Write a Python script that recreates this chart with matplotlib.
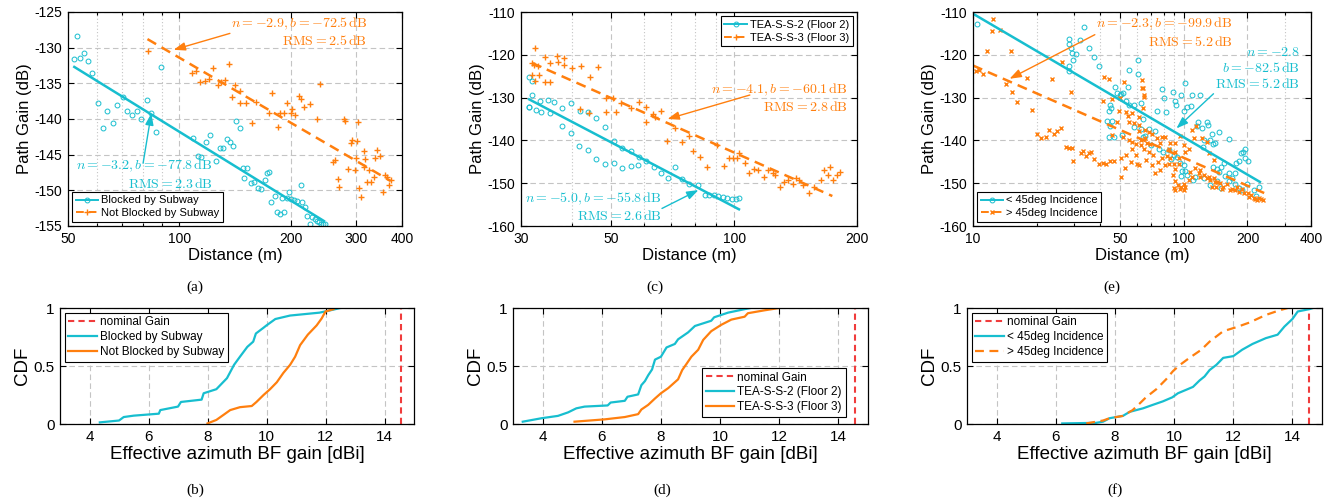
import matplotlib
matplotlib.use('Agg')
import matplotlib.pyplot as plt
from matplotlib.lines import Line2D
from matplotlib.ticker import FixedLocator, NullFormatter

plt.rcParams['font.family'] = ['Liberation Sans', 'DejaVu Sans']
plt.rcParams['mathtext.fontset'] = 'cm'
plt.rcParams['axes.unicode_minus'] = False

CYAN = '#17becf'
ORANGE = '#ff7f0e'
RED = '#f03c3c'
GRID = '#c4c4c4'

# ---------------- (a) blocked / not blocked by subway ----------------
a_blk_d = [51.8, 52.8, 54.0, 55.3, 56.6, 58.2, 60.3, 62.0, 63.9, 66.0,
           68.0, 70.4, 72.3, 74.4, 77.0, 79.0, 81.7, 84.0, 86.6, 89.0,
           108.9, 112.3, 114.1, 117.9, 120.9, 126.0, 128.6, 131.5, 134.3, 137.2,
           140.0, 142.7, 146.0, 148.5, 150, 152.6, 156, 159, 163, 166,
           170, 173, 175, 177, 181, 184, 187, 190, 192, 195,
           198, 200, 204, 208, 213, 215, 219, 222, 226, 229,
           232, 236, 239, 242, 245, 248]
a_blk_pg = [-131.6, -128.4, -131.5, -130.7, -131.8, -133.5, -137.7, -141.3, -138.9, -140.6,
            -138.1, -136.9, -138.9, -139.5, -138.9, -140.0, -137.3, -139.1, -141.8, -132.7,
            -142.6, -145.2, -145.3, -143.2, -142.3, -145.9, -144.0, -144.0, -142.8, -143.2,
            -143.8, -140.3, -141.2, -146.9, -148.3, -146.8, -149.0, -148.8, -149.7, -149.8,
            -148.6, -147.6, -147.4, -151.7, -150.8, -153.0, -153.3, -151.1, -153.1, -151.1,
            -150.3, -151.2, -151.3, -151.5, -149.3, -151.6, -152.4, -153.6, -154.7, -153.7,
            -154.0, -154.3, -154.5, -154.7, -154.7, -154.7]
a_nb_d = [82.3, 108, 111, 114, 117, 120, 123, 127, 130, 133,
          136, 139, 141, 146, 146, 151, 157, 161, 175, 178,
          185, 187, 192, 196, 200, 202, 206, 211, 213, 217,
          225, 236, 240, 261, 264, 268, 271, 278, 280, 285,
          291, 293, 298, 300, 303, 305, 307, 310, 315, 316,
          318, 322, 325, 330, 335, 338, 342, 348, 356, 360,
          364, 369, 373]
a_nb_pg = [-130.5, -133.5, -133.3, -134.8, -134.7, -134.4, -132.9, -135.3, -134.8, -134.5,
           -132.3, -136.9, -135.3, -137.8, -136.1, -137.8, -140.6, -137.6, -139.2, -136.3,
           -141.1, -139.2, -139.2, -137.8, -139.2, -138.6, -139.4, -136.8, -137.2, -138.3,
           -137.9, -140.0, -135.1, -146.0, -145.7, -148.4, -149.6, -140.0, -140.3, -147.0,
           -143.4, -143.0, -147.1, -145.5, -143.1, -140.4, -149.7, -150.9, -144.5, -146.7,
           -145.6, -148.8, -147.2, -148.8, -148.1, -145.5, -144.3, -145.2, -150.2, -147.9,
           -148.1, -149.3, -148.6]
a_fit_blk_d, a_fit_blk_pg = [52, 246], [-132.7, -154.3]
a_fit_nb_d, a_fit_nb_pg = [82, 373], [-128.8, -148.7]

# ---------------- (c) floor 2 / floor 3 ----------------
c_f2_d = [31.4, 31.9, 31.4, 31.4, 31.9, 32.6, 33.4, 33.6, 34.9, 35.3,
          36.2, 37.9, 37.9, 39.8, 39.8, 41.7, 41.8, 43.8, 43.8, 45.9,
          45.9, 48.3, 48.3, 50.6, 50.8, 53.1, 53.1, 55.7, 55.7, 58.2,
          58.4, 60.9, 63.4, 66.1, 68.9, 71.7, 74.3, 77.3, 81.4, 85.0,
          86.6, 89.1, 91.3, 93.8, 96.1, 98.5, 100.8, 102.7]
c_f2_pg = [-125.1, -126.1, -132.3, -132.2, -129.5, -132.9, -130.9, -133.4, -130.5, -133.7,
           -131.1, -136.6, -132.5, -138.2, -131.3, -141.3, -133.1, -142.3, -133.4, -134.8,
           -144.3, -136.8, -145.5, -140.2, -145.2, -146.4, -141.7, -142.5, -146.0, -145.8,
           -143.8, -144.8, -146.2, -147.7, -148.8, -146.3, -149.1, -150.3, -150.5, -152.8,
           -152.7, -152.8, -153.0, -153.2, -153.4, -153.7, -153.8, -153.4]
c_f3_d = [32.4, 31.9, 32.3, 33.0, 31.9, 32.4, 33.3, 34.3, 34.3, 35.3,
          35.3, 36.8, 36.9, 38.2, 38.3, 40.0, 42.0, 44.2, 46.4, 41.8,
          44.0, 48.6, 51.2, 48.6, 50.4, 52.9, 55.8, 58.4, 60.8, 60.8,
          63.1, 63.8, 66.0, 68.6, 71.6, 74.5, 77.3, 79.3, 82.6, 85.8,
          90.8, 94.4, 97.0, 99.5, 101.7, 102.7, 106.1, 108.7, 111.5, 114.4,
          118.0, 120.7, 124.2, 125.8, 129.2, 132.6, 135.2, 139.1, 141.8, 144.5,
          147.2, 152.9, 156.7, 162.8, 165.9, 169.7, 172.2, 174.9, 178.6, 181.3]
c_f3_pg = [-118.3, -122.0, -122.3, -122.6, -124.8, -126.1, -124.8, -120.4, -126.4, -122.0,
           -126.4, -120.2, -121.7, -120.8, -122.3, -123.1, -122.7, -125.1, -122.8, -132.7,
           -133.7, -133.4, -133.4, -130.2, -130.2, -131.3, -132.5, -131.1, -135.8, -132.3,
           -133.9, -134.5, -133.1, -140.2, -137.2, -140.3, -139.0, -142.4, -143.8, -146.2,
           -141.1, -145.9, -144.2, -144.2, -144.2, -143.0, -145.2, -147.5, -146.6, -147.0,
           -148.5, -147.0, -147.5, -148.1, -150.9, -149.7, -149.3, -150.1, -148.9, -149.3,
           -150.5, -152.2, -150.9, -149.3, -147.0, -148.1, -146.2, -149.3, -148.1, -147.3]
c_fit_f2_d, c_fit_f2_pg = [31.4, 102.7], [-130.4, -156.1]
c_fit_f3_d, c_fit_f3_pg = [31.9, 174.0], [-121.9, -153.0]

# ---------------- (e) incidence angle ----------------
e_lt_d = [10.5, 33.7, 28.4, 28.6, 29.2, 29.6, 30.9, 29.8, 32.1, 35.5,
          37.4, 39.7, 28.4, 28.6, 47.0, 48.4, 49.6, 51.2, 54.1, 55.0,
          60.4, 60.4, 44.8, 45.2, 44.2, 43.3, 45.8, 44.5, 44.2, 46.7,
          50.6, 50.1, 53.2, 55.0, 58.1, 62.6, 63.6, 62.6, 63.6, 58.1,
          78.7, 74.5, 80.1, 82.2, 88.3, 90.2, 92.0, 97.1, 101.5, 99.6,
          103.3, 108.3, 109.1, 119.6, 116.5, 115.8, 121.7, 128.6, 129.5, 135.8,
          139.9, 147.2, 164.0, 124.5, 133.0, 137.8, 122.7, 67.9, 65.4, 73.2,
          70.0, 75.9, 79.3, 84.6, 89.3, 92.7, 87.1, 96.1, 99.6, 97.9,
          97.1, 103.2, 112.4, 109.9, 124.0, 136.8, 143.4, 147.2, 150.4, 154.3,
          157.2, 162.9, 162.9, 169.0, 174.2, 176.6, 181.7, 187.0, 190.5, 195.4,
          194.0, 201.3, 199.1, 188.4, 174.2, 181.7, 213.9, 227.6, 219.0, 143.4,
          150.4, 132.8, 100.7]
e_lt_pg = [-112.8, -113.4, -116.3, -117.5, -118.3, -119.6, -119.8, -121.2, -116.5, -118.4,
           -120.4, -122.7, -122.7, -123.7, -127.5, -129.0, -129.4, -129.0, -127.6, -123.5,
           -121.2, -124.5, -131.7, -132.5, -133.1, -135.5, -135.5, -136.6, -139.1, -139.1,
           -138.8, -129.2, -130.9, -131.7, -131.7, -131.3, -135.0, -137.3, -139.1, -136.8,
           -128.0, -133.1, -130.0, -133.4, -128.8, -130.9, -131.7, -129.5, -126.6, -133.1,
           -132.1, -131.9, -129.5, -129.5, -135.8, -136.6, -137.2, -135.6, -136.4, -138.6,
           -140.5, -138.0, -139.7, -139.8, -139.8, -140.9, -141.5, -137.3, -139.0, -137.8,
           -141.1, -141.9, -142.7, -142.3, -143.3, -143.8, -144.4, -145.2, -145.8, -147.1,
           -148.4, -148.1, -148.5, -149.3, -148.9, -146.2, -146.6, -147.3, -146.2, -145.2,
           -148.3, -149.5, -147.7, -148.9, -147.7, -145.2, -144.8, -143.0, -142.7, -141.9,
           -144.1, -144.8, -150.3, -151.6, -150.1, -151.2, -151.6, -150.9, -153.0, -149.5,
           -151.1, -150.5, -147.2]
e_gt_d = [12.4, 12.3, 13.5, 10.7, 11.7, 15.1, 14.4, 15.3, 16.2, 18.0,
          19.1, 20.0, 21.0, 22.1, 23.0, 24.2, 25.1, 26.1, 23.6, 26.4,
          27.5, 28.6, 29.4, 29.1, 29.8, 32.4, 33.3, 34.3, 35.3, 36.2,
          37.5, 39.4, 41.4, 42.6, 44.7, 46.7, 41.9, 44.2, 41.1, 45.5,
          49.0, 49.7, 52.1, 48.4, 45.8, 50.4, 50.2, 52.7, 56.0, 53.1,
          57.0, 59.2, 59.6, 61.4, 54.0, 55.0, 58.1, 61.0, 61.4, 51.2,
          55.0, 57.0, 59.2, 62.6, 53.2, 57.0, 62.6, 63.6, 61.4, 63.2,
          63.6, 64.8, 10.3, 11.2,
          63.2, 64.4, 65.5, 67.9, 70.4, 65.2, 66.6, 69.1, 64.4, 67.9,
          71.7, 74.5, 77.3, 78.7, 75.3, 70.4, 66.0, 73.1, 77.3, 81.4,
          83.0, 86.1, 84.5, 89.4, 91.0, 94.4, 88.3, 91.0, 93.7, 96.1,
          96.8, 99.6, 89.4, 91.0, 99.6, 101.5, 105.2, 109.1, 107.3, 113.3,
          117.5, 119.6, 119.6, 123.9, 128.5, 130.9, 133.1, 138.4, 140.7, 136.1,
          141.8, 143.4, 148.7, 151.2, 153.7, 160.0, 166.0, 169.0, 175.3, 178.3,
          181.7, 188.4, 191.6, 201.3, 204.3, 208.9, 213.9, 217.6, 221.4, 227.6,
          232.7, 111.2, 109.1, 114.1, 96.1, 90.3, 84.5, 101.5, 105.2, 99.6,
          78.7, 81.4, 86.1, 121.7, 128.5, 130.9, 138.4, 91.0, 94.4, 236.0]
e_gt_pg = [-111.6, -114.4, -114.1, -123.5, -119.0, -119.2, -126.9, -128.8, -131.1, -125.5,
           -132.9, -138.4, -139.5, -139.1, -137.6, -138.4, -137.8, -137.0, -125.6, -121.7,
           -141.5, -141.7, -141.7, -128.8, -144.8, -143.0, -142.5, -143.6, -143.0, -142.7,
           -144.4, -145.6, -145.2, -145.4, -144.8, -144.8, -125.1, -125.6, -130.9, -130.3,
           -133.1, -130.0, -126.3, -135.8, -138.8, -148.5, -144.2, -146.4, -145.0, -143.3,
           -141.9, -143.3, -145.4, -145.8, -134.2, -135.6, -136.0, -137.9, -136.4, -139.1,
           -139.9, -140.3, -140.9, -141.1, -133.3, -133.5, -139.9, -132.5, -134.5, -125.9,
           -127.7, -129.8, -123.9, -124.6,
           -127.7, -129.5, -137.6, -138.0, -138.4, -139.5, -140.5, -140.9, -142.0, -142.8,
           -143.3, -139.5, -140.7, -139.1, -145.0, -145.8, -144.6, -147.7, -147.0, -145.8,
           -143.6, -144.2, -145.4, -145.4, -146.6, -145.6, -148.1, -149.5, -150.5, -151.3,
           -150.9, -150.3, -151.1, -151.6, -151.6, -150.9, -149.3, -148.5, -147.3, -146.4,
           -147.7, -148.5, -146.9, -148.1, -148.9, -148.5, -149.3, -148.9, -149.7, -150.9,
           -150.9, -149.8, -150.0, -151.3, -150.9, -150.3, -151.6, -151.3, -151.6, -150.9,
           -152.0, -151.3, -152.4, -152.4, -153.2, -152.7, -153.4, -153.6, -154.0, -153.4,
           -153.8, -139.5, -137.6, -136.6, -138.9, -140.5, -141.9, -142.7, -141.9, -141.1,
           -144.2, -139.1, -140.7, -139.5, -140.3, -143.0, -144.6, -142.7, -144.2, -153.9]
e_fit_lt_d, e_fit_lt_pg = [10, 229], [-110.4, -149.7]
e_fit_gt_d, e_fit_gt_pg = [10, 240], [-122.5, -152.3]

# ---------------- CDFs of effective azimuth BF gain ----------------
NOMINAL_GAIN = 14.55
b_blk_g = [4.35, 5.0, 5.16, 5.5, 6.35, 6.4, 7.0, 7.1, 7.8, 7.87, 8.3, 8.66, 8.9, 9.1,
           9.35, 9.55, 9.64, 9.9, 10.0, 10.3, 10.8, 11.8, 12.25, 12.5]
b_blk_cdf = [0.014, 0.03, 0.06, 0.072, 0.089, 0.12, 0.15, 0.19, 0.21, 0.265, 0.30, 0.395,
             0.51, 0.58, 0.665, 0.71, 0.78, 0.83, 0.85, 0.905, 0.935, 0.96, 0.985, 1.0]
b_nb_g = [8.0, 8.3, 8.55, 8.77, 9.1, 9.5, 9.66, 9.9, 10.12, 10.35, 10.57, 10.8, 10.97,
          11.14, 11.4, 11.7, 11.87, 12.0, 12.27]
b_nb_cdf = [0.005, 0.035, 0.08, 0.12, 0.145, 0.155, 0.19, 0.25, 0.30, 0.36, 0.44, 0.51,
            0.58, 0.68, 0.77, 0.85, 0.91, 0.97, 0.99]
d_f2_g = [3.33, 3.97, 4.52, 4.86, 5.14, 5.42, 6.2, 6.3, 6.78, 6.87, 7.23, 7.34, 7.46,
          7.57, 7.7, 7.8, 8.0, 8.19, 8.47, 8.58, 8.92, 9.15, 9.7, 9.8, 10.27, 10.83, 11.03]
d_f2_cdf = [0.02, 0.05, 0.07, 0.10, 0.135, 0.15, 0.16, 0.185, 0.20, 0.235, 0.255, 0.335,
            0.37, 0.42, 0.47, 0.555, 0.58, 0.66, 0.69, 0.73, 0.79, 0.845, 0.89, 0.92,
            0.96, 0.99, 1.0]
d_f3_g = [5.08, 6.1, 6.78, 7.23, 7.34, 7.57, 7.8, 8.0, 8.25, 8.58, 8.72, 8.87, 9.03,
          9.26, 9.43, 9.7, 10.04, 10.38, 10.83, 10.94, 11.5, 12.0]
d_f3_cdf = [0.02, 0.04, 0.06, 0.085, 0.125, 0.165, 0.22, 0.265, 0.31, 0.385, 0.465, 0.52,
            0.58, 0.64, 0.725, 0.80, 0.855, 0.90, 0.925, 0.955, 0.98, 1.0]
f_lt_g = [6.22, 7.37, 7.6, 7.82, 8.27, 8.5, 8.95, 9.28, 9.62, 9.94, 10.13, 10.41, 10.64,
          10.86, 11.03, 11.2, 11.43, 11.66, 12.0, 12.3, 12.65, 13.1, 13.5, 13.73, 14.0,
          14.18, 14.57, 14.7]
f_lt_cdf = [0.005, 0.01, 0.02, 0.05, 0.07, 0.105, 0.135, 0.165, 0.195, 0.23, 0.265, 0.295,
            0.32, 0.375, 0.41, 0.465, 0.51, 0.57, 0.585, 0.64, 0.69, 0.74, 0.77, 0.84,
            0.905, 0.97, 0.99, 1.0]
f_gt_g = [7.03, 7.6, 7.82, 8.27, 8.6, 8.83, 9.05, 9.4, 9.73, 9.96, 10.2, 10.52, 10.92,
          11.2, 11.66, 12.11, 12.55, 13.1, 13.56, 13.84]
f_gt_cdf = [0.005, 0.03, 0.05, 0.07, 0.12, 0.175, 0.23, 0.30, 0.385, 0.455, 0.51, 0.57,
            0.64, 0.71, 0.80, 0.835, 0.875, 0.94, 0.98, 1.0]

W, H = 1335, 501


def box(x0, x1, y0, y1):
    return [x0 / W, 1 - y1 / H, (x1 - x0) / W, (y1 - y0) / H]


def style_axes(ax, labelsize=10):
    ax.tick_params(direction='in', which='both', top=True, right=True,
                   labelsize=labelsize, length=4, width=0.8, pad=4)
    ax.tick_params(which='minor', length=2)
    for s in ax.spines.values():
        s.set_linewidth(0.9)
    ax.grid(True, which='major', ls=(0, (5, 3)), color=GRID, lw=0.8)
    ax.set_axisbelow(True)


def log_x(ax, lim, major, minor):
    ax.set_xscale('log')
    ax.set_xlim(*lim)
    ax.set_xticks(major, [str(t) for t in major])
    ax.xaxis.set_minor_locator(FixedLocator(minor))
    ax.xaxis.set_minor_formatter(NullFormatter())
    ax.grid(True, which='minor', axis='x', ls=(0, (1, 2)), color=GRID, lw=0.8)


def legend(ax, handles, labels, loc, size=8, hlen=2.0, anchor=None):
    kw = {} if anchor is None else {'bbox_to_anchor': anchor}
    lg = ax.legend(handles, labels, loc=loc, fontsize=size, fancybox=False, framealpha=1,
                   edgecolor='black', borderpad=0.3, labelspacing=0.25,
                   handlelength=hlen, handletextpad=0.3, borderaxespad=0.4, **kw)
    lg.get_frame().set_linewidth(0.8)


def note(ax, x, y, s, color):
    ax.text(x, y, s, ha='right', va='center', multialignment='right',
            color=color, fontsize=10)


def arrow(ax, tail, head, color):
    ax.annotate('', xy=head, xytext=tail,
                arrowprops=dict(arrowstyle='-|>,head_length=0.7,head_width=0.25',
                                color=color, lw=1.0, shrinkA=0, shrinkB=0))


def scatter_panel(ax, blue, orange, fit_b, fit_o, orange_marker, orange_ms, orange_mew):
    ax.plot(blue[0], blue[1], ls='none', marker='o', mfc='none', mec=CYAN, ms=3.5, mew=0.7)
    ax.plot(orange[0], orange[1], ls='none', marker=orange_marker, color=ORANGE,
            ms=orange_ms, mew=orange_mew)
    ax.plot(fit_b[0], fit_b[1], color=CYAN, lw=1.8)
    ax.plot(fit_o[0], fit_o[1], color=ORANGE, lw=1.8, ls=(0, (4, 2.5)))
    ax.set_xlabel('Distance (m)', fontsize=12, labelpad=2)
    ax.set_ylabel('Path Gain (dB)', fontsize=12, labelpad=2)
    hb = Line2D([], [], color=CYAN, lw=1.4, marker='o', mfc='none', mec=CYAN, ms=3.5, mew=0.7)
    ho = Line2D([], [], color=ORANGE, lw=1.4, ls=(0, (4, 2.5)), marker=orange_marker,
                ms=orange_ms, mew=orange_mew)
    return hb, ho


fig = plt.figure(figsize=(13.35, 5.01), dpi=100)

# (a)
ax = fig.add_axes(box(68, 402, 12, 226))
style_axes(ax)
hb, ho = scatter_panel(ax, (a_blk_d, a_blk_pg), (a_nb_d, a_nb_pg),
                       (a_fit_blk_d, a_fit_blk_pg), (a_fit_nb_d, a_fit_nb_pg), '+', 4.5, 1.0)
log_x(ax, (50, 400), [50, 100, 200, 300, 400], [60, 70, 80, 90])
ax.set_ylim(-155, -125)
ax.set_yticks(range(-155, -124, 5))
legend(ax, [hb, ho], ['Blocked by Subway', 'Not Blocked by Subway'], 'lower left')
note(ax, 322, -127.8, r'$n = -2.9, b = -72.5\,\mathrm{dB}$' + '\n' + r'$\mathrm{RMS} = 2.5\,\mathrm{dB}$', ORANGE)
arrow(ax, (137, -128.0), (96.5, -130.3), ORANGE)
note(ax, 123, -147.75, r'$n = -3.2, b = -77.8\,\mathrm{dB}$' + '\n' + r'$\mathrm{RMS} = 2.3\,\mathrm{dB}$', CYAN)
arrow(ax, (79.8, -146.2), (84.0, -139.2), CYAN)

# (c)
ax = fig.add_axes(box(521, 857, 12, 226))
style_axes(ax)
hb, ho = scatter_panel(ax, (c_f2_d, c_f2_pg), (c_f3_d, c_f3_pg),
                       (c_fit_f2_d, c_fit_f2_pg), (c_fit_f3_d, c_fit_f3_pg), '+', 4.5, 1.0)
log_x(ax, (30, 200), [30, 50, 100, 200], [40, 60, 70, 80, 90])
ax.set_ylim(-160, -110)
ax.set_yticks(range(-160, -109, 10))
legend(ax, [hb, ho], ['TEA-S-S-2 (Floor 2)', 'TEA-S-S-3 (Floor 3)'], 'upper right')
note(ax, 190, -130.15, r'$n = -4.1, b = -60.1\,\mathrm{dB}$' + '\n' + r'$\mathrm{RMS} = 2.8\,\mathrm{dB}$', ORANGE)
arrow(ax, (109.2, -129.4), (68.6, -135.0), ORANGE)
note(ax, 66.3, -155.55, r'$n = -5.0, b = -55.8\,\mathrm{dB}$' + '\n' + r'$\mathrm{RMS} = 2.6\,\mathrm{dB}$', CYAN)
arrow(ax, (66.5, -155.9), (81.7, -151.6), CYAN)

# (e)
ax = fig.add_axes(box(973, 1311, 12, 226))
style_axes(ax)
hb, ho = scatter_panel(ax, (e_lt_d, e_lt_pg), (e_gt_d, e_gt_pg),
                       (e_fit_lt_d, e_fit_lt_pg), (e_fit_gt_d, e_fit_gt_pg), 'x', 2.5, 1.0)
log_x(ax, (10, 400), [10, 50, 100, 200, 400], [20, 30, 40, 60, 70, 80, 90, 300])
ax.set_ylim(-160, -110)
ax.set_yticks(range(-160, -109, 10))
legend(ax, [hb, ho], ['< 45deg Incidence', '> 45deg Incidence'], 'lower left')
note(ax, 171, -114.75, r'$n = -2.3, b = -99.9\,\mathrm{dB}$' + '\n' + r'$\mathrm{RMS} = 5.2\,\mathrm{dB}$', ORANGE)
arrow(ax, (37.8, -115.3), (14.9, -125.6), ORANGE)
note(ax, 355, -123.1, r'$n = -2.8$' + '\n' + r'$b = -82.5\,\mathrm{dB}$' + '\n' + r'$\mathrm{RMS} = 5.2\,\mathrm{dB}$', CYAN)
arrow(ax, (138, -129.1), (92.1, -137.2), CYAN)


def cdf_panel(rect, blue, orange, labels, loc, orange_ls='-', anchor=None):
    ax = fig.add_axes(rect)
    style_axes(ax, labelsize=11)
    hn = ax.axvline(NOMINAL_GAIN, color=RED, ls=(0, (3, 2)), lw=1.5)
    hb, = ax.plot(blue[0], blue[1], color=CYAN, lw=1.6)
    ho, = ax.plot(orange[0], orange[1], color=ORANGE, lw=1.6, ls=orange_ls)
    ax.set_xlim(3, 15)
    ax.set_ylim(0, 1)
    ax.set_xticks(range(4, 15, 2))
    ax.set_yticks([0, 0.5, 1], ['0', '0.5', '1'])
    ax.set_xlabel('Effective azimuth BF gain [dBi]', fontsize=13.5, labelpad=2)
    ax.set_ylabel('CDF', fontsize=13.5, labelpad=2)
    legend(ax, [hn, hb, ho], ['nominal Gain'] + labels, loc, size=8.5, hlen=2.4, anchor=anchor)
    return ax


cdf_panel(box(60, 414, 308, 424), (b_blk_g, b_blk_cdf), (b_nb_g, b_nb_cdf),
          ['Blocked by Subway', 'Not Blocked by Subway'], 'upper left')
cdf_panel(box(513, 868, 308, 424), (d_f2_g, d_f2_cdf), (d_f3_g, d_f3_cdf),
          ['TEA-S-S-2 (Floor 2)', 'TEA-S-S-3 (Floor 3)'], 'lower right',
          anchor=(0.95, 0.02))
cdf_panel(box(967, 1322, 308, 424), (f_lt_g, f_lt_cdf), (f_gt_g, f_gt_cdf),
          ['< 45deg Incidence', '> 45deg Incidence'], 'upper left', orange_ls=(0, (4, 2.5)))

for x, y, s in [(195, 287, '(a)'), (655, 287, '(c)'), (1112, 287, '(e)'),
                (195, 490, '(b)'), (662, 490, '(d)'), (1115, 490, '(f)')]:
    fig.text(x / W, 1 - y / H, s, family=['Liberation Serif', 'DejaVu Serif'],
             fontsize=11, ha='center', va='center')

fig.savefig('out.png', dpi=100)
